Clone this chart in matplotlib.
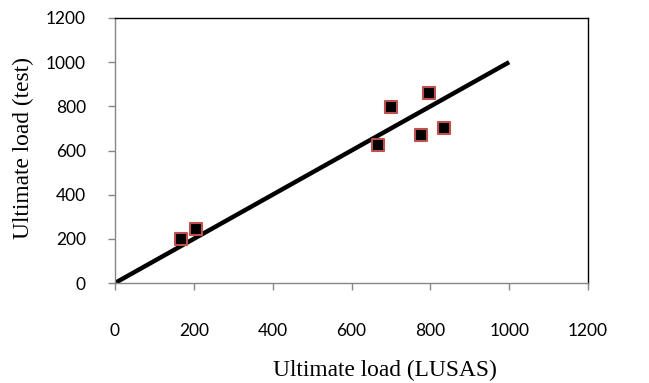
import matplotlib
matplotlib.use("Agg")
import matplotlib.pyplot as plt

lusas = [167, 206, 666, 699, 797, 777, 835]
test = [198, 243, 626, 796, 860, 669, 703]
line_x = [0, 1000]
line_y = [0, 1000]
ticks = [0, 200, 400, 600, 800, 1000, 1200]

fig = plt.figure(figsize=(6.49, 3.83), dpi=100)
ax = fig.add_axes([115/649, 1-283/383, 473/649, 265/383])

ax.plot(line_x, line_y, color='black', lw=3.2, solid_capstyle='butt', zorder=2)
ax.scatter(lusas, test, marker='s', s=70, c='black', edgecolors='#C0504D', linewidths=1.5, zorder=3)

ax.set_xlim(0, 1200)
ax.set_ylim(0, 1200)
ax.set_xticks(ticks)
ax.set_yticks(ticks)
ax.tick_params(axis='both', direction='out', length=5, color='#868686', width=1,
               labelsize=12.5)
ax.tick_params(axis='x', pad=24)
ax.tick_params(axis='y', pad=16)
for lab in ax.get_xticklabels() + ax.get_yticklabels():
    lab.set_family('Lato')
for s in ['left', 'bottom']:
    ax.spines[s].set_color('#868686')
for s in ['top', 'right']:
    ax.spines[s].set_color('black')
for s in ax.spines.values():
    s.set_linewidth(1)

fig.text(385/649, 1-370/383, 'Ultimate load (LUSAS)', family='Liberation Serif', fontsize=16.8,
         ha='center', va='center')
fig.text(23/649, 1-148/383, 'Ultimate load (test)', family='Liberation Serif', fontsize=16.8,
         ha='center', va='center', rotation=90)

fig.savefig('out.png', dpi=100)
